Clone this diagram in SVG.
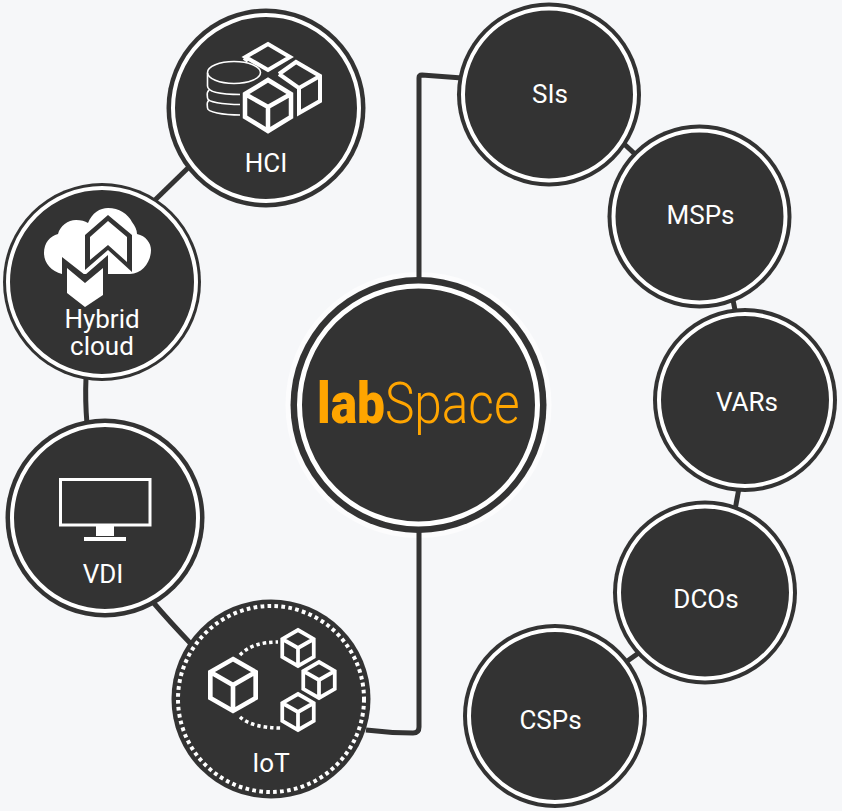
<svg xmlns="http://www.w3.org/2000/svg" width="842" height="811" viewBox="0 0 842 811">
<style>
.o{fill:#333;stroke:none}
.r{fill:none;stroke:#fff;stroke-width:4}
.t{font-family:Roboto,"Liberation Sans",sans-serif;font-size:26px;fill:#fff;text-anchor:middle}
.l{fill:none;stroke:#333;stroke-width:5}
.i{fill:none;stroke:#fff;stroke-linejoin:miter}
</style>
<defs>
<path id="cube" class="i" d="M0-24 21-12V12L0 24-21 12V-12ZM-21-12 0 0 21-12M0 0V24"/>
<path id="cubebg" fill="#333" d="M0-28 25-14V14L0 28-25 14V-14Z"/>
</defs>
<rect width="842" height="811" fill="#f6f7f9"/>
<circle id="labspace-halo" cx="418.5" cy="405" r="133" fill="#fcfcfd"/>
<g id="connectors">
<path class="l" d="M419 280V78Q419 75 422 75L462 78"/>
<path class="l" d="M419 530V727Q419 733 413 733Q390 733 366 730"/>
<path class="l" d="M155 200 190 166"/>
<path class="l" d="M86 378Q85 400 87 424"/>
<path class="l" d="M152 601Q170 622 192 645"/>
<path class="l" d="M622 142 636 155"/>
<path class="l" d="M733 300 736 315"/>
<path class="l" d="M739 488 735 510"/>
<path class="l" d="M626 662 640 652"/>
</g>
<g id="hci">
<circle class="o" cx="266" cy="108" r="99.500"/><circle class="r" cx="266" cy="108" r="93"/>
<g fill="none" stroke="#fff" stroke-width="1.6"><ellipse cx="234" cy="72.500" rx="26.500" ry="11"/><path d="M207.500 73V86C207.500 92 222 94.500 241 94.500M209 90C206 93 207.500 95 207.500 98C207.500 102 222 104.500 241 104.500M209 100C206 103 207.500 105 207.500 108C207.500 112 222 115 241 115"/></g>
<path class="i" stroke-width="4" d="M245.500 57 268 44 290 57 268 70ZM244 58 248 61"/>
<path class="i" stroke-width="4" d="M279 74 296 62 320 76V101L299 113V88L279 74M299 88 320 76"/>
<path fill="#333" d="M240 92 268 75 296 92V118L268 135 240 118Z"/>
<path class="i" stroke-width="4.500" d="M245 94 268 80 291 94V117L268 131 245 117ZM245 94 268 107 291 94M268 107V131"/>
<text class="t" x="266" y="172">HCI</text>
</g>
<g id="hybrid">
<circle class="o" cx="102" cy="282" r="99"/><circle class="r" cx="102" cy="282" r="94"/>
<path fill="#fff" d="M62 274C51 271 44 263 44 253C44 243 50 236 58 234C60 226 68 220 76 220C81 220 85 221 88 223C92 213 100 208 108 208C119 208 128 214 132 222C135 226 137 230 137 234C146 236 151 243 151 250C151 262 142 274 130 274H62Z"/>
<path fill="#333" d="M108 215 132 235V272L108 250 85 270V235Z"/>
<path fill="#fff" d="M108 221 127 237V262L108 245 90 260V237Z"/>
<path fill="#333" d="M62 257 85 275 108 255V300H62Z"/>
<path fill="#fff" d="M67 268 85 283 103 268V295L85 307 67 293Z"/>
<text class="t" x="102" y="328">Hybrid</text>
<text class="t" x="102" y="355">cloud</text>
</g>
<g id="vdi">
<circle class="o" cx="105" cy="518" r="99.500"/><circle class="r" cx="105" cy="518" r="93"/>
<rect x="60.500" y="479.500" width="89.500" height="45.500" fill="none" stroke="#fff" stroke-width="3"/>
<rect x="96" y="526" width="18" height="10" fill="#fff"/><rect x="84" y="537" width="42" height="4" fill="#fff"/>
<text class="t" x="103" y="583">VDI</text>
</g>
<g id="iot">
<circle class="o" cx="271" cy="699" r="99.500"/>
<circle cx="271" cy="699" r="93" fill="none" stroke="#fff" stroke-width="4" stroke-dasharray="3.700 3.300"/>
<path d="M240 655Q252 642 278 642M240 717Q252 728 282 728" fill="none" stroke="#fff" stroke-width="3.500" stroke-dasharray="3.500 3"/>
<use href="#cube" transform="translate(233 685) scale(1.08)" stroke-width="4.300"/>
<g transform="translate(298 648) scale(.75)"><use href="#cubebg"/><use href="#cube" stroke-width="5"/></g>
<g transform="translate(298 712) scale(.75)"><use href="#cubebg"/><use href="#cube" stroke-width="5"/></g>
<g transform="translate(319 680) scale(.75)"><use href="#cubebg"/><use href="#cube" stroke-width="5"/></g>
<text class="t" x="271" y="772">IoT</text>
</g>
<g id="labspace">
<circle class="o" cx="418.500" cy="405" r="128"/><circle class="r" cx="418.500" cy="405" r="119" style="stroke-width:5"/>
<text transform="translate(317 423) scale(.855 1)" font-family="Roboto,'Liberation Sans',sans-serif" font-size="58" fill="#ffa500" font-weight="300"><tspan font-weight="900">lab</tspan>Space</text>
</g>
<g id="sis"><circle class="o" cx="549" cy="94.500" r="92"/><circle class="r" cx="549" cy="94.500" r="86"/><text class="t" x="550" y="103">SIs</text></g>
<g id="msps"><circle class="o" cx="699.500" cy="216.500" r="92"/><circle class="r" cx="699.500" cy="216.500" r="86"/><text class="t" x="700.500" y="224">MSPs</text></g>
<g id="vars"><circle class="o" cx="745" cy="400" r="92"/><circle class="r" cx="745" cy="400" r="86"/><text class="t" x="747" y="411">VARs</text></g>
<g id="dcos"><circle class="o" cx="705" cy="592.500" r="92"/><circle class="r" cx="705" cy="592.500" r="86"/><text class="t" x="706" y="608">DCOs</text></g>
<g id="csps"><circle class="o" cx="555" cy="716" r="92"/><circle class="r" cx="555" cy="716" r="86"/><text class="t" x="550.500" y="729">CSPs</text></g>
</svg>
